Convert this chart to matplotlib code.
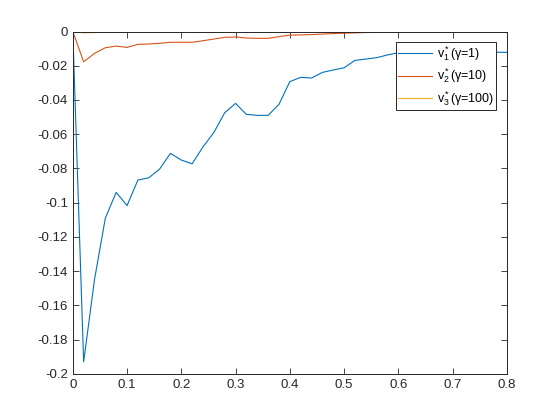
import numpy as np
import matplotlib
matplotlib.use('Agg')
import matplotlib.pyplot as plt

plt.rcParams['font.family'] = ['Liberation Sans', 'DejaVu Sans']
plt.rcParams['mathtext.fontset'] = 'custom'
plt.rcParams['mathtext.rm'] = 'Liberation Sans'
plt.rcParams['mathtext.it'] = 'Liberation Sans:italic'
plt.rcParams['axes.unicode_minus'] = False

# 數據 (x 每 0.02 一點)
x = [i * 0.02 for i in range(41)]
v1 = [0, -0.193, -0.145, -0.109, -0.094, -0.1017, -0.0868, -0.0855, -0.0804, -0.0712,
      -0.0751, -0.0773, -0.0674, -0.0590, -0.0475, -0.042, -0.0484, -0.049, -0.049, -0.0426,
      -0.0293, -0.0268, -0.0272, -0.0239, -0.0225, -0.0212, -0.0169, -0.0161, -0.0153, -0.0137,
      -0.0124, -0.0122, -0.0125, -0.012, -0.0123, -0.0121, -0.0124, -0.0122, -0.0123, -0.0121,
      -0.0122]
v2 = [0, -0.0177, -0.0128, -0.0095, -0.0085, -0.0093, -0.0075, -0.0073, -0.0069, -0.0063,
      -0.0063, -0.0063, -0.0054, -0.0044, -0.0034, -0.0032, -0.0038, -0.0040, -0.0040, -0.0030,
      -0.0021, -0.0020, -0.0018, -0.0015, -0.0012, -0.0010, -0.0008, -0.0006, -0.0005, -0.0005,
      -0.0004, -0.0004, -0.0004, -0.0003, -0.0003, -0.0004, -0.0003, -0.0003, -0.0003, -0.0003,
      -0.0003]
v3 = [0, -0.0008, -0.0006, -0.0005, -0.0004, -0.0004, -0.0003, -0.0003, -0.0003, -0.0002,
      -0.0002, -0.0002, -0.0002, -0.0002, -0.0001, -0.0001, -0.0001, -0.0001, -0.0001, -0.0001,
      -0.0001, -0.0001, -0.0001, -0.0001, -0.0001, -0.0001, -0.0001, -0.0001, -0.0001, -0.0001,
      -0.0001, -0.0001, -0.0001, -0.0001, -0.0001, -0.0001, -0.0001, -0.0001, -0.0001, -0.0001,
      -0.0001]
labels = [r'$\mathregular{v^*_1(\gamma}$=1)', r'$\mathregular{v^*_2(\gamma}$=10)',
          r'$\mathregular{v^*_3(\gamma}$=100)']
xticks = [0, 0.1, 0.2, 0.3, 0.4, 0.5, 0.6, 0.7, 0.8]
xticklabels = ['0', '0.1', '0.2', '0.3', '0.4', '0.5', '0.6', '0.7', '0.8']
yticks = [-0.2, -0.18, -0.16, -0.14, -0.12, -0.1, -0.08, -0.06, -0.04, -0.02, 0]
yticklabels = ['-0.2', '-0.18', '-0.16', '-0.14', '-0.12', '-0.1', '-0.08', '-0.06',
               '-0.04', '-0.02', '0']

fig = plt.figure(figsize=(5.6, 4.2), dpi=100)
ax = fig.add_axes([0.13, 0.11, 0.775, 0.815])
ax.plot(x, v1, color='#0072BD', lw=0.8, label=labels[0])
ax.plot(x, v2, color='#D95319', lw=0.8, label=labels[1])
ax.plot(x, v3, color='#EDB120', lw=0.8, label=labels[2])

ax.set_xlim(0, 0.8)
ax.set_ylim(-0.2, 0)
ax.set_xticks(xticks)
ax.set_xticklabels(xticklabels)
ax.set_yticks(yticks)
ax.set_yticklabels(yticklabels)
ax.tick_params(direction='in', length=4, width=0.6, colors='#262626', labelsize=9.5,
               top=True, right=True)
for s in ax.spines.values():
    s.set_linewidth(0.7)
    s.set_color('#262626')

leg = ax.legend(loc='upper right', bbox_to_anchor=(0.976, 0.97), fontsize=9,
                fancybox=False, framealpha=1, edgecolor='#262626', handlelength=2.7,
                borderpad=0.2, labelspacing=0.3, handletextpad=0.4, borderaxespad=0)
leg.get_frame().set_linewidth(0.7)

fig.savefig('out.png', dpi=100)
